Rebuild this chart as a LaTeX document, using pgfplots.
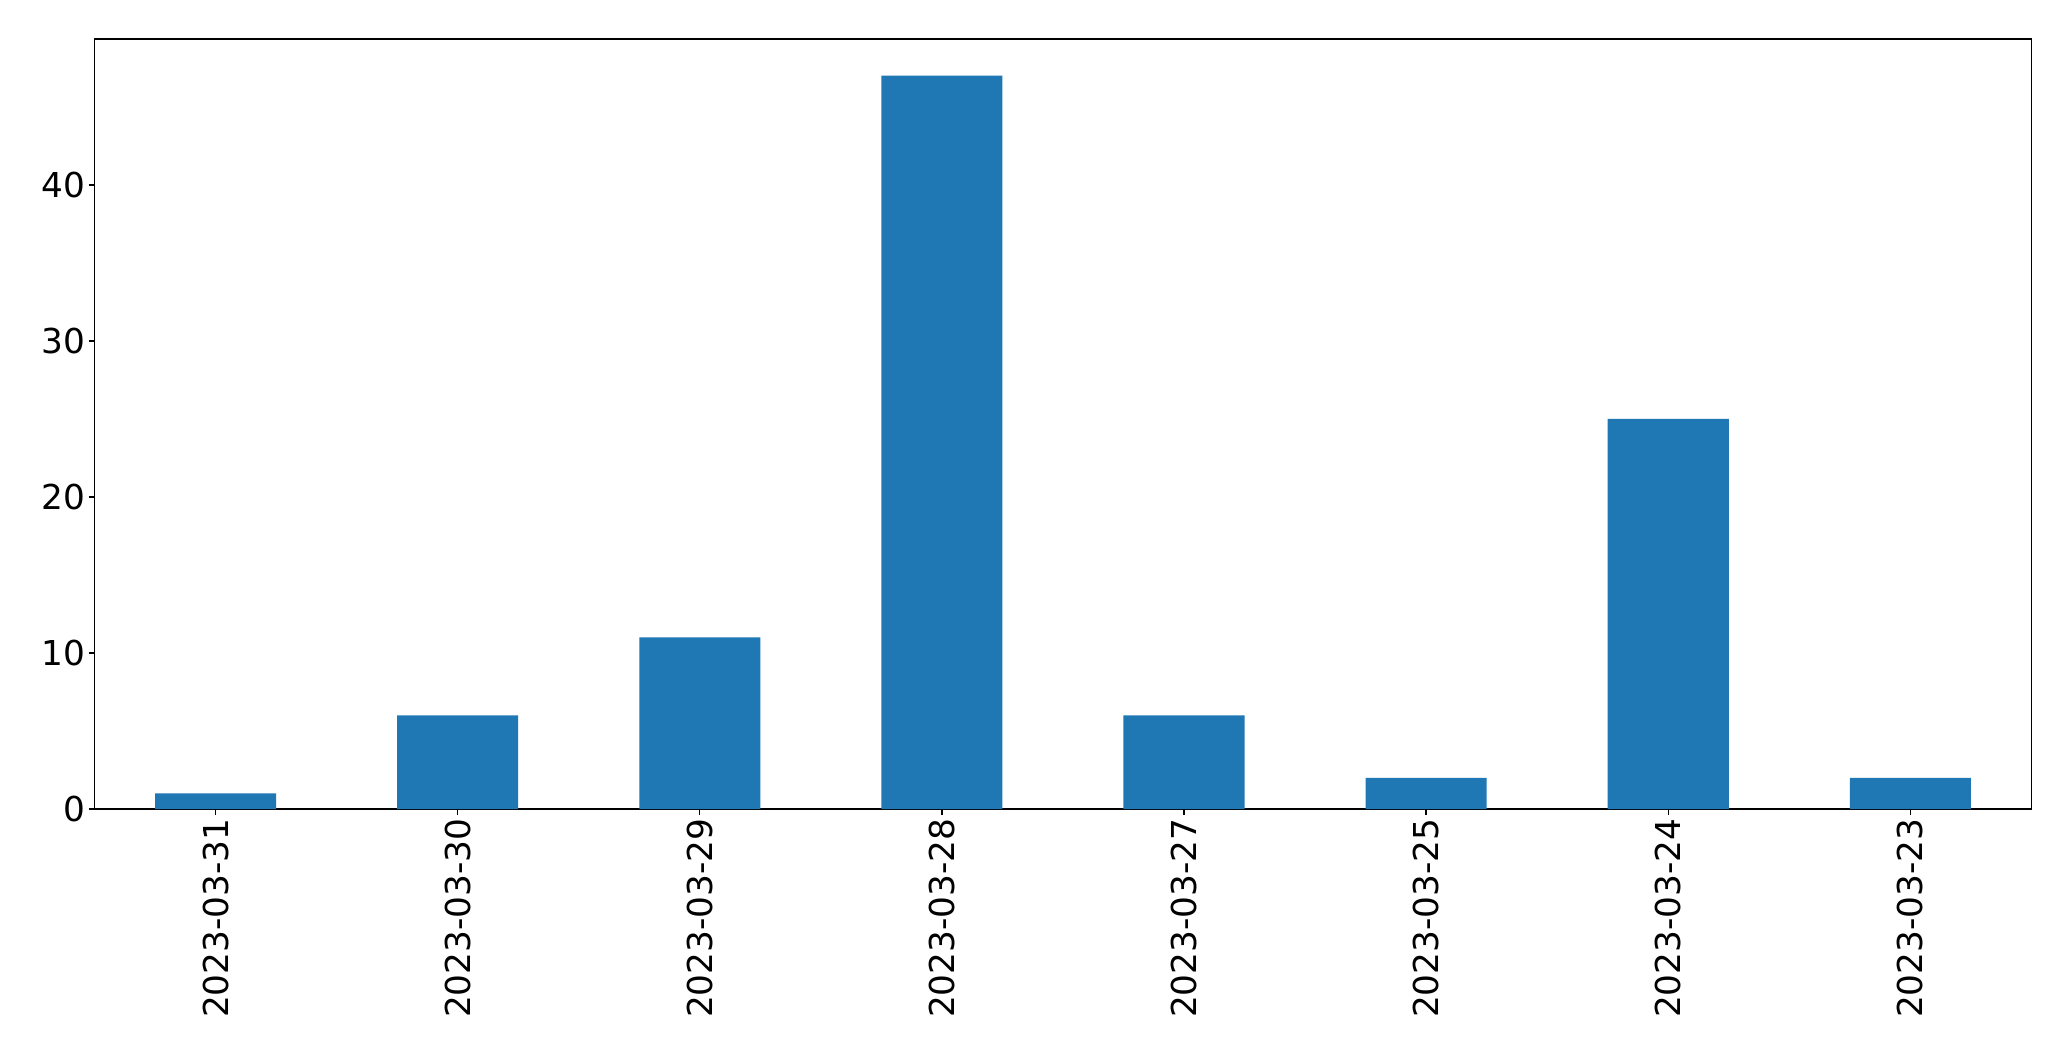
\documentclass[border=0pt]{standalone}
\usepackage{fontspec}
\setmainfont{DejaVu Sans}
\usepackage{pgfplots}
\pgfplotsset{compat=1.18}
\definecolor{mplblue}{HTML}{1F77B4}
\begin{document}
\begin{tikzpicture}[x=1pt,y=1pt]
\path[use as bounding box] (0,0) rectangle (2071,1061);
\begin{axis}[
  at={(94.5pt,252pt)}, anchor=south west,
  scale only axis,
  width=1937pt, height=770pt,
  xmin=-0.5, xmax=7.5,
  ymin=0, ymax=49.35,
  xtick={0,1,2,3,4,5,6,7},
  xticklabels={2023-03-31,2023-03-30,2023-03-29,2023-03-28,2023-03-27,2023-03-25,2023-03-24,2023-03-23},
  ytick={0,10,20,30,40},
  xtick pos=bottom, ytick pos=left,
  tick align=outside,
  major tick length=6pt,
  every tick/.style={black, line width=1.4pt},
  axis line style={line width=1.4pt},
  /pgf/number format/assume math mode=true,
  ticklabel style={font=\fontsize{34.3}{41}\selectfont},
  xticklabel style={rotate=90, anchor=east},
  axis background/.style={fill=white},
]
\addplot[ybar, bar width=0.5, fill=mplblue, draw=none] coordinates {
(0,1) (1,6) (2,11) (3,47) (4,6) (5,2) (6,25) (7,2)
};
\end{axis}
\end{tikzpicture}
\end{document}
